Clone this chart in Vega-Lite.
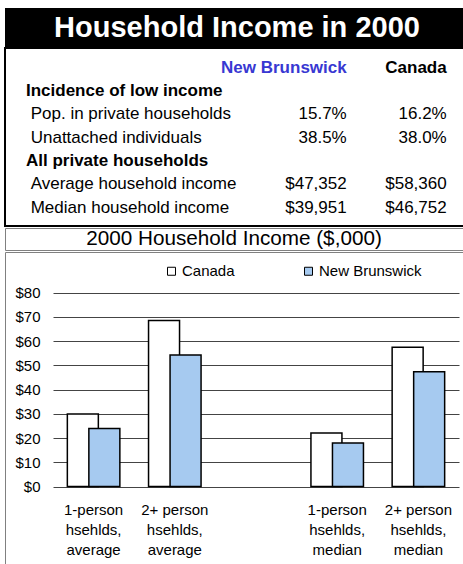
{
  "$schema": "https://vega.github.io/schema/vega-lite/v6.json",
  "background": "white",
  "padding": {"left": 4, "top": 8, "right": 0, "bottom": 0},
  "config": {
    "font": "Liberation Sans",
    "view": {"stroke": null},
    "axis": {"labelFont": "Liberation Sans", "labelColor": "black"},
    "legend": {"labelFont": "Liberation Sans", "labelColor": "black"}
  },
  "spacing": 0,
  "resolve": {"scale": {"x": "independent", "y": "independent", "color": "independent", "fill": "independent"}},
  "vconcat": [
    {
      "width": 464,
      "height": 39,
      "view": {"fill": "black", "stroke": null},
      "data": {"values": [{"title": "Household Income in 2000"}]},
      "mark": {"type": "text", "color": "white", "fontSize": 29, "fontWeight": "bold", "font": "Liberation Sans"},
      "encoding": {"text": {"field": "title"}}
    },
    {
      "width": 464,
      "height": 178,
      "view": {"fill": "white", "stroke": "black", "strokeWidth": 2},
      "resolve": {"scale": {"x": "independent"}},
      "layer": [
        {
          "data": {"values": [
            {"row": 1, "level": "section", "label": "Incidence of low income"},
            {"row": 2, "level": "item", "label": "Pop. in private households"},
            {"row": 3, "level": "item", "label": "Unattached individuals"},
            {"row": 4, "level": "section", "label": "All private households"},
            {"row": 5, "level": "item", "label": "Average household income"},
            {"row": 6, "level": "item", "label": "Median household income"}
          ]},
          "encoding": {
            "x": {"field": "level", "type": "nominal", "axis": null,
                  "scale": {"type": "point", "domain": ["section", "item"], "range": [21, 25.7], "padding": 0}},
            "y": {"field": "row", "type": "quantitative", "axis": null,
                  "scale": {"domain": [-1.0587, 6.571], "reverse": true, "nice": false, "zero": false}},
            "text": {"field": "label"}
          },
          "layer": [
            {
              "transform": [{"filter": "datum.level == 'section'"}],
              "mark": {"type": "text", "align": "left", "baseline": "alphabetic", "fontSize": 17, "fontWeight": "bold", "color": "black"}
            },
            {
              "transform": [{"filter": "datum.level == 'item'"}],
              "mark": {"type": "text", "align": "left", "baseline": "alphabetic", "fontSize": 17, "color": "black"}
            }
          ]
        },
        {
          "encoding": {
            "x": {"field": "region", "type": "nominal", "axis": null,
                  "scale": {"type": "point", "domain": ["New Brunswick", "Canada"], "range": [341.7, 441.7], "padding": 0}},
            "y": {"field": "row", "type": "quantitative", "axis": null,
                  "scale": {"domain": [-1.0587, 6.571], "reverse": true, "nice": false, "zero": false}}
          },
          "layer": [
            {
              "data": {"values": [
                {"row": 0, "region": "New Brunswick"},
                {"row": 0, "region": "Canada"}
              ]},
              "mark": {"type": "text", "align": "right", "baseline": "alphabetic", "fontSize": 17, "fontWeight": "bold"},
              "encoding": {
                "text": {"field": "region"},
                "color": {"condition": {"test": "datum.region == 'New Brunswick'", "value": "#3838D2"}, "value": "black"}
              }
            },
            {
              "data": {"values": [
                {"row": 2, "region": "New Brunswick", "value": "15.7%"},
                {"row": 2, "region": "Canada", "value": "16.2%"},
                {"row": 3, "region": "New Brunswick", "value": "38.5%"},
                {"row": 3, "region": "Canada", "value": "38.0%"},
                {"row": 5, "region": "New Brunswick", "value": "$47,352"},
                {"row": 5, "region": "Canada", "value": "$58,360"},
                {"row": 6, "region": "New Brunswick", "value": "$39,951"},
                {"row": 6, "region": "Canada", "value": "$46,752"}
              ]},
              "mark": {"type": "text", "align": "right", "baseline": "alphabetic", "fontSize": 17, "color": "black"},
              "encoding": {"text": {"field": "value"}}
            }
          ]
        }
      ]
    },
    {
      "width": 458,
      "height": 22,
      "view": {"fill": "white", "stroke": "#808080", "strokeWidth": 1},
      "data": {"values": [{"title": "2000 Household Income ($,000)"}]},
      "mark": {"type": "text", "color": "black", "fontSize": 20.7, "font": "Liberation Sans"},
      "encoding": {"text": {"field": "title"}}
    },
    {
      "width": 460,
      "height": 315,
      "view": {"stroke": "#808080", "strokeWidth": 1, "fill": "white"},
      "data": {"values": [
        {"category": "1-person hsehlds, average", "region": "Canada", "income": 29.9},
        {"category": "1-person hsehlds, average", "region": "New Brunswick", "income": 23.9},
        {"category": "2+ person hsehlds, average", "region": "Canada", "income": 68.5},
        {"category": "2+ person hsehlds, average", "region": "New Brunswick", "income": 54.2},
        {"category": "1-person hsehlds, median", "region": "Canada", "income": 22.1},
        {"category": "1-person hsehlds, median", "region": "New Brunswick", "income": 17.9},
        {"category": "2+ person hsehlds, median", "region": "Canada", "income": 57.4},
        {"category": "2+ person hsehlds, median", "region": "New Brunswick", "income": 47.3}
      ]},
      "mark": {"type": "bar", "stroke": "black", "strokeWidth": 1.5, "width": 31},
      "encoding": {
        "x": {
          "field": "category", "type": "nominal", "sort": null,
          "scale": {"domain": ["1-person hsehlds, average", "2+ person hsehlds, average", " ", "1-person hsehlds, median", "2+ person hsehlds, median"],
                    "range": [48, 454], "paddingInner": 0.47, "paddingOuter": 0.235},
          "axis": {"title": null, "labelAngle": 0, "ticks": false, "tickSize": 0, "domain": false, "grid": false, "offset": -80.5,
                   "labelFontSize": 15, "labelPadding": 16, "labelLineHeight": 20, "labelBaseline": "top",
                   "labelExpr": "split(replace(datum.label, ' hsehlds, ', '|hsehlds,|'), '|')"}
        },
        "xOffset": {"field": "region", "type": "nominal",
                    "scale": {"domain": ["Canada", "New Brunswick"], "paddingInner": 0, "paddingOuter": 0}},
        "y": {
          "field": "income", "type": "quantitative", "stack": null,
          "scale": {"domain": [0, 80], "nice": false, "range": [234.5, 40.5]},
          "axis": {"title": null, "values": [0, 10, 20, 30, 40, 50, 60, 70, 80], "format": "$d", "offset": -48,
                   "domain": false, "ticks": false, "tickSize": 0, "labelPadding": 13,
                   "labelFontSize": 15, "grid": true, "gridColor": "#444444", "gridWidth": 1, "gridOpacity": 1}
        },
        "fill": {
          "field": "region", "type": "nominal",
          "scale": {"domain": ["Canada", "New Brunswick"], "range": ["white", "#A6CAF0"]},
          "legend": {"title": null, "orient": "none", "direction": "horizontal", "legendX": 159, "legendY": 11.5,
                     "padding": 0, "symbolType": "square", "symbolSize": 64, "symbolStrokeColor": "black",
                     "symbolStrokeWidth": 1, "labelFontSize": 15, "labelOffset": 3, "columnPadding": 66}
        }
      }
    }
  ]
}
